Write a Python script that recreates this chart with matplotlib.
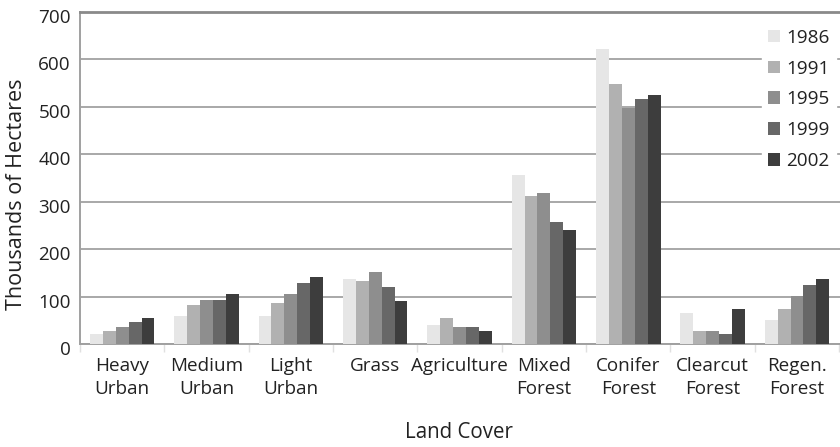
import matplotlib
matplotlib.use("Agg")
import matplotlib.pyplot as plt
import matplotlib.transforms as mtransforms
import numpy as np

categories = ["Heavy\nUrban", "Medium\nUrban", "Light\nUrban", "Grass", "Agriculture",
              "Mixed\nForest", "Conifer\nForest", "Clearcut\nForest", "Regen.\nForest"]
years = ["1986", "1991", "1995", "1999", "2002"]
v1986 = [22, 59, 59, 137, 41, 356, 621, 65, 51]
v1991 = [27, 82, 87, 133, 54, 312, 548, 27, 73]
v1995 = [36, 92, 105, 152, 36, 318, 498, 27, 102]
v1999 = [46, 92, 128, 120, 36, 258, 516, 22, 124]
v2002 = [55, 105, 142, 91, 27, 240, 524, 73, 138]
series = [v1986, v1991, v1995, v1999, v2002]
colors = ["#e6e6e6", "#b1b1b1", "#8e8e8e", "#676767", "#3d3d3d"]

plt.rcParams["font.family"] = ["Open Sans", "DejaVu Sans"]
text_color = "#222222"
fs = 13.6

fig = plt.figure(figsize=(8.4, 4.47), dpi=100)
ax = fig.add_axes([0.0952, 0.2304, 0.9068, 0.7428])

x = np.arange(len(categories))
bw = 0.153
for i, (vals, c, lab) in enumerate(zip(series, colors, years)):
    ax.bar(x + (i - 2) * bw, vals, width=bw, color=c, label=lab, zorder=3, linewidth=0)

ax.set_xlim(-0.47, 8.53)
ax.set_ylim(0, 700)
ax.set_yticks(range(0, 701, 100))
ax.yaxis.grid(True, color="#a8a8a8", linewidth=1.4, zorder=0)
ax.set_axisbelow(True)

ax.set_xticks(x)
ax.set_xticklabels(categories, fontsize=fs, color=text_color, linespacing=1.38)
ax.set_xticks(np.arange(-0.5, 9, 1), minor=True)
ax.tick_params(axis="x", which="major", length=0, pad=9)
ax.tick_params(axis="x", which="minor", length=6, color="#e0e0e0", width=1)
ax.tick_params(axis="y", length=0, labelsize=fs, labelcolor=text_color, pad=6.5)

# y tick labels sit slightly below their gridlines
shift = mtransforms.ScaledTranslation(0, -4 / 100, fig.dpi_scale_trans)
for lbl in ax.get_yticklabels():
    lbl.set_transform(lbl.get_transform() + shift)

for s in ["left", "bottom"]:
    ax.spines[s].set_color("#a0a0a0")
    ax.spines[s].set_linewidth(1.4)
ax.spines["top"].set_color("#8a8a8a")
ax.spines["top"].set_linewidth(2)
ax.spines["right"].set_visible(False)

ax.set_ylabel("Thousands of Hectares", fontsize=15.5, color=text_color)
ax.yaxis.set_label_coords(-0.083, 0.45)
ax.yaxis.label.set_va("center")
ax.set_xlabel("Land Cover", fontsize=14.8, color=text_color)
ax.xaxis.set_label_coords(0.497, -0.268)
ax.xaxis.label.set_va("center")

leg = ax.legend(loc="upper left", bbox_to_anchor=(762 / 840, 1 - 23 / 447, 0, 0),
                bbox_transform=fig.transFigure, frameon=True, fontsize=fs,
                handlelength=0.65, handleheight=0.65, handletextpad=0.35,
                labelspacing=0.68, borderpad=0.3, borderaxespad=0)
leg.get_frame().set_facecolor("white")
leg.get_frame().set_edgecolor("white")
leg.get_frame().set_alpha(1)
leg.set_zorder(5)
for t in leg.get_texts():
    t.set_color(text_color)

fig.savefig("out.png", dpi=100)
